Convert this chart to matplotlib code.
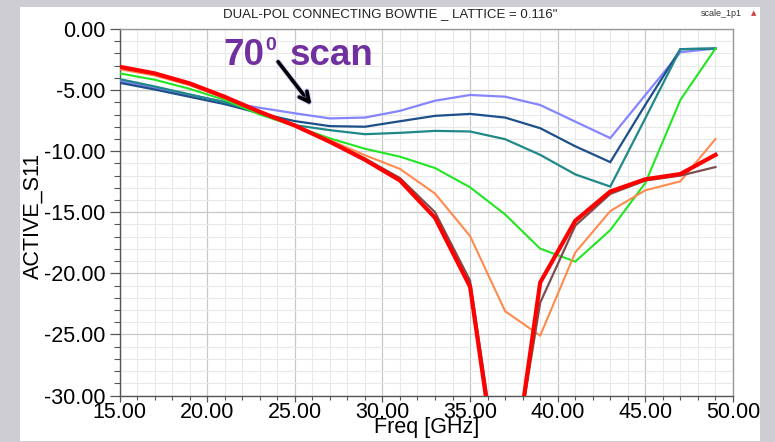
import matplotlib
matplotlib.use("Agg")
import matplotlib.pyplot as plt
from matplotlib.patches import Rectangle
from matplotlib.ticker import MultipleLocator, FormatStrFormatter
import matplotlib.patheffects as pe

plt.rcParams['font.family'] = ['Liberation Sans', 'DejaVu Sans']

# Frequency sweep (GHz)
freq = [15, 17, 19, 21, 23, 25, 27, 29, 31, 33, 35, 37, 39, 41, 43, 45, 47, 49]

# Active S11 (dB) for each scan case
s11_lightblue = [-4.25, -4.8, -5.4, -5.95, -6.45, -6.9, -7.32, -7.25, -6.7, -5.87, -5.4, -5.54, -6.22, -7.58, -8.93, -5.4, -1.9, -1.6]
s11_navy = [-4.4, -4.95, -5.55, -6.15, -6.9, -7.54, -7.95, -8.0, -7.55, -7.11, -6.95, -7.25, -8.12, -9.6, -10.9, -6.2, -1.65, -1.6]
s11_teal = [-4.1, -4.7, -5.35, -6.0, -6.85, -7.87, -8.28, -8.61, -8.5, -8.34, -8.39, -9.02, -10.3, -11.9, -12.9, -7.3, -1.65, -1.6]
s11_green = [-3.63, -4.15, -4.9, -5.8, -7.0, -7.95, -8.95, -9.8, -10.45, -11.38, -12.96, -15.18, -17.98, -19.04, -16.46, -12.6, -5.8, -1.6]
s11_orange = [-3.3, -3.8, -4.6, -5.65, -6.85, -7.95, -9.1, -10.33, -11.45, -13.47, -16.95, -23.1, -25.1, -18.3, -14.9, -13.2, -12.47, -9.0]
s11_brown = [-3.15, -3.65, -4.5, -5.55, -6.78, -7.87, -9.2, -10.6, -12.2, -15.0, -20.6, -40.0, -22.4, -16.1, -13.5, -12.4, -12.0, -11.3]
s11_red = [-3.09, -3.63, -4.45, -5.55, -6.78, -7.9, -9.23, -10.7, -12.4, -15.45, -21.1, -41.0, -20.75, -15.7, -13.3, -12.3, -11.87, -10.3]

series = [
    (s11_lightblue, '#8585ff', 1.6),
    (s11_navy, '#1d4f8a', 1.6),
    (s11_teal, '#208888', 1.6),
    (s11_green, '#22e622', 1.5),
    (s11_orange, '#ff8a4d', 1.5),
    (s11_brown, '#7d4e50', 1.6),
    (s11_red, '#ff0000', 3.0),
]

W, H = 775, 442
fig = plt.figure(figsize=(W / 100, H / 100), dpi=100)
fig.patch.set_facecolor('#cdcdd3')

# white report panel
fig.add_artist(Rectangle((20 / W, 1 / H), 740 / W, 434 / H, transform=fig.transFigure,
                         facecolor='white', edgecolor='none', zorder=0))

ax = fig.add_axes([119.5 / W, 1 - 395.5 / H, (733 - 119.5) / W, (395.5 - 29) / H])
ax.set_facecolor('white')

for vals, col, lw in series:
    ax.plot(freq, vals, color=col, lw=lw, solid_joinstyle='miter', zorder=3)

ax.set_xlim(15, 50)
ax.set_ylim(-30, 0)
ax.xaxis.set_major_locator(MultipleLocator(5))
ax.xaxis.set_minor_locator(MultipleLocator(1))
ax.yaxis.set_major_locator(MultipleLocator(5))
ax.yaxis.set_minor_locator(MultipleLocator(1))
ax.xaxis.set_major_formatter(FormatStrFormatter('%.2f'))
ax.yaxis.set_major_formatter(FormatStrFormatter('%.2f'))

ax.grid(which='major', color='#c8c8c8', lw=0.9, zorder=1)
ax.grid(which='minor', color='#e9e9e9', lw=0.8, zorder=1)
ax.set_axisbelow(True)

ax.tick_params(axis='y', which='major', length=7, width=0.9, color='#555555',
               labelsize=15.5, pad=3, direction='out')
ax.tick_params(axis='y', which='minor', length=4, width=0.8, color='#555555', direction='out')
ax.tick_params(axis='x', which='major', length=4, width=0.9, color='#555555',
               labelsize=15.5, pad=1, direction='out')
ax.tick_params(axis='x', which='minor', length=3, width=0.8, color='#555555', direction='out')

for side in ['left', 'bottom']:
    ax.spines[side].set_color('#555555')
    ax.spines[side].set_linewidth(1.0)
for side in ['top', 'right']:
    ax.spines[side].set_color('#999999')
    ax.spines[side].set_linewidth(1.0)

ax.set_xlabel('Freq [GHz]', fontsize=15.5, labelpad=-5)
fig.text(33 / W, 1 - 216 / H, 'ACTIVE_S11', rotation=90, fontsize=15.5,
         ha='center', va='center')

fig.text(390 / W, 1 - 14 / H, 'DUAL-POL CONNECTING BOWTIE _ LATTICE = 0.116"',
         fontsize=9.5, ha='center', va='center', color='#222222')
fig.text(721 / W, 1 - 14 / H, 'scale_1p1', fontsize=6.5, ha='center', va='center',
         color='#333333')
fig.text(754 / W, 1 - 13 / H, '\u25b2', fontsize=5, ha='center', va='center',
         color='#d04040', family='DejaVu Sans')

# scan-angle callout
purple = '#7030a0'
ax.text(20.9, -2.95, '70', fontsize=26.5, fontweight='bold', color=purple,
        ha='left', va='baseline', zorder=5)
ax.text(23.3, -1.75, '0', fontsize=14, fontweight='bold', color=purple,
        ha='left', va='baseline', zorder=5)
ax.text(24.7, -2.95, 'scan', fontsize=26.5, fontweight='bold', color=purple,
        ha='left', va='baseline', zorder=5)
ax.annotate('', xy=(26.05, -6.4), xytext=(23.95, -2.5),
            arrowprops=dict(arrowstyle='->,head_length=0.7,head_width=0.35',
                            color='black', lw=2.6,
                            path_effects=[pe.withStroke(linewidth=4, foreground='#9a9aff', alpha=0.45)]),
            zorder=5)

fig.savefig('out.png', dpi=100, facecolor=fig.get_facecolor())
